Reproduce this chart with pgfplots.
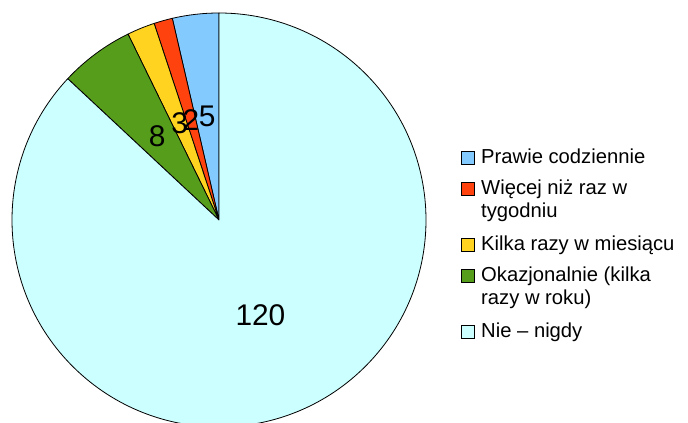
\documentclass[border=0pt]{standalone}
\usepackage{fontspec}
\setmainfont{Liberation Sans}
\usepackage{pgfplots}
\pgfplotsset{compat=1.18}
\definecolor{c1}{HTML}{83CAFF}
\definecolor{c2}{HTML}{FF420E}
\definecolor{c3}{HTML}{FFD320}
\definecolor{c4}{HTML}{579D1C}
\definecolor{c5}{HTML}{CCFFFF}
\begin{document}
\begin{tikzpicture}
\begin{axis}[hide axis, scale only axis, width=688bp, height=423bp,
  xmin=0, xmax=688, ymin=0, ymax=423, clip=true]
\addplot[draw=none, forget plot] coordinates {(0,0) (688,423)};
\pgfplotsextra{
  % pie slices: value/colour, total 138, starting at 12 o'clock, counterclockwise
  \xdef\cum{0}
  \foreach \v/\c in {5/c1,2/c2,3/c3,8/c4,120/c5}{
    \pgfmathsetmacro\a{90+\cum/138*360}
    \pgfmathsetmacro\b{90+(\cum+\v)/138*360}
    \pgfmathsetmacro\sx{219+207*cos(\a)}
    \pgfmathsetmacro\sy{203+207*sin(\a)}
    \filldraw[fill=\c, draw=black, line width=0.8bp, line join=round]
      (axis cs:219,203) -- (axis cs:\sx,\sy)
      arc[start angle=\a, end angle=\b, radius=207bp] -- cycle;
    \pgfmathsetmacro\n{\cum+\v}\xdef\cum{\n}
  }
  \xdef\cum{0}
  \foreach \v in {5,2,3,8,120}{
    \pgfmathsetmacro\m{90+(\cum+\v/2)/138*360}
    \pgfmathsetmacro\lx{219+104*cos(\m)}
    \pgfmathsetmacro\ly{203+104*sin(\m)}
    \node[inner sep=0pt, font=\fontsize{30}{36}\selectfont] at (axis cs:\lx,\ly) {\v};
    \pgfmathsetmacro\n{\cum+\v}\xdef\cum{\n}
  }
  % legend
  \foreach \y/\c in {259/c1,228/c2,172/c3,141/c4,85/c5}{
    \pgfmathsetmacro\yt{\y+13}
    \filldraw[fill=\c, draw=black, line width=0.7bp] (axis cs:461,\y) rectangle (axis cs:474,\yt);
  }
  \foreach \y/\t in {259/Prawie codziennie, 228/Więcej niż raz w, 205/tygodniu,
     172/Kilka razy w miesiącu, 141/{Okazjonalnie (kilka}, 118/{razy w roku)}, 85/Nie – nigdy}{
    \node[anchor=base west, inner sep=0pt, font=\fontsize{20.3}{24}\selectfont] at (axis cs:481,\y) {\t};
  }
}
\end{axis}
\pgfresetboundingbox
\path (current axis.south west) rectangle (current axis.north east);
\end{tikzpicture}
\end{document}
